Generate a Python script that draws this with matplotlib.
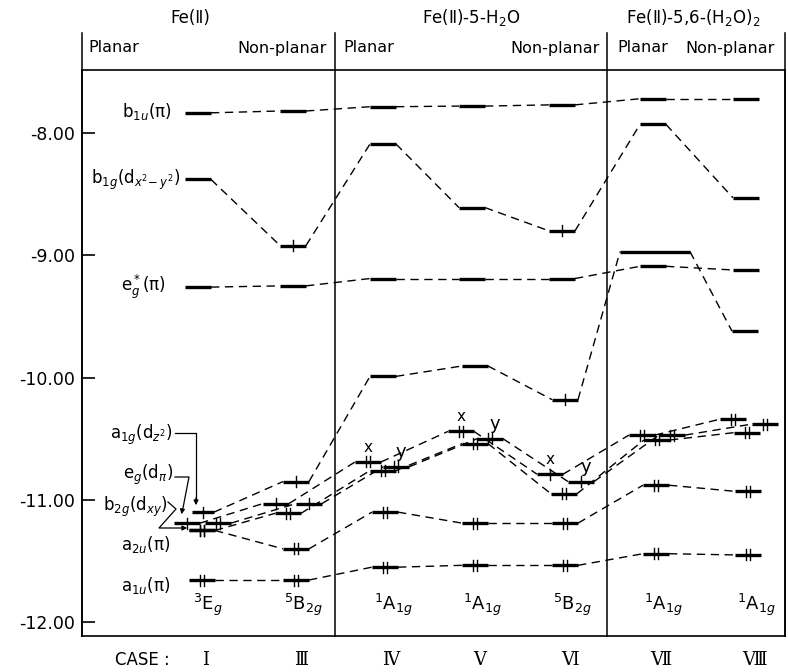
import matplotlib.pyplot as plt

plt.rcParams['font.family'] = ['DejaVu Sans']

case_labels = ["Ⅰ", "Ⅲ", "Ⅳ", "Ⅴ", "Ⅵ", "Ⅶ", "Ⅷ"]
state_labels = [r"$^3$E$_g$", r"$^5$B$_{2g}$", r"$^1$A$_{1g}$", r"$^1$A$_{1g}$",
                r"$^5$B$_{2g}$", r"$^1$A$_{1g}$", r"$^1$A$_{1g}$"]

# orbital energies (eV), one value per case I, III, IV, V, VI, VII, VIII
b1u = [-7.835, -7.82, -7.785, -7.78, -7.77, -7.72, -7.72]
b1g = [-8.38, -8.92, -8.09, -8.61, -8.80, -7.93, -8.53]
eg_star = [-9.26, -9.25, -9.19, -9.19, -9.19, -9.09, -9.12]
a1g = [-11.10, -10.85, -9.99, -9.905, -10.18, -8.97, -9.62]
eg_x = [-11.19, -11.03, -10.69, -10.44, -10.79, -10.47, -10.34]
eg_y = [-11.19, -11.03, -10.73, -10.50, -10.85, -10.47, -10.38]
b2g = [-11.25, -11.11, -10.76, -10.54, -10.95, -10.51, -10.45]
a2u = [-11.25, -11.40, -11.10, -11.19, -11.19, -10.88, -10.93]
a1u = [-11.655, -11.655, -11.55, -11.535, -11.535, -11.44, -11.45]

# electrons in each level
b1u_occ = [0, 0, 0, 0, 0, 0, 0]
b1g_occ = [0, 1, 0, 0, 1, 0, 0]
eg_star_occ = [0, 0, 0, 0, 0, 0, 0]
a1g_occ = [1, 1, 0, 0, 1, 0, 0]
eg_x_occ = [1, 1, 2, 2, 1, 2, 2]
eg_y_occ = [2, 1, 2, 2, 1, 2, 2]
b2g_occ = [2, 2, 2, 2, 2, 2, 2]
a2u_occ = [2, 2, 2, 2, 2, 2, 2]
a1u_occ = [2, 2, 2, 2, 2, 2, 2]

# horizontal layout of the level bars
col_x = [198, 293, 383, 472, 562, 653, 746]
egx_x = [187, 276, 368, 461, 550, 642, 733]
egy_x = [218, 309, 396, 490, 581, 672, 765]
b2g_x = [202, 288, 383, 475, 564, 657, 747]
a1g_x = [203, 296, 383, 475, 565, 655, 745]
low_x = [202, 296, 385, 475, 565, 656, 748]
a1g_w = [22, 26, 26, 26, 26, 70, 26]


def py2e(py):
    return -8 - (py - 133) / 122.3


def levels(ax, xs, es, occ, widths=None):
    w = widths if widths else [26] * len(xs)
    for i in range(len(xs)):
        ax.plot([xs[i] - w[i] / 2, xs[i] + w[i] / 2], [es[i], es[i]],
                color='k', lw=2.4, solid_capstyle='butt')
        if i < len(xs) - 1:
            ax.plot([xs[i] + w[i] / 2, xs[i + 1] - w[i + 1] / 2], [es[i], es[i + 1]],
                    color='k', lw=1, dashes=(6, 4))
        offs = {1: [0], 2: [-2.2, 2.2]}.get(occ[i], [])
        for dx in offs:
            ax.plot([xs[i] + dx] * 2, [es[i] - 0.045, es[i] + 0.045], color='k', lw=1)


fig = plt.figure(figsize=(7.88, 6.72), dpi=100)
ax = fig.add_axes([82 / 788, 36 / 672, 703 / 788, 566 / 672])
ylo, yhi = py2e(636), py2e(70)
ax.set_xlim(82, 785)
ax.set_ylim(ylo, yhi)

levels(ax, col_x, b1u, b1u_occ)
levels(ax, col_x, b1g, b1g_occ)
levels(ax, col_x, eg_star, eg_star_occ)
levels(ax, a1g_x, a1g, a1g_occ, a1g_w)
levels(ax, egx_x, eg_x, eg_x_occ)
levels(ax, egy_x, eg_y, eg_y_occ)
levels(ax, b2g_x, b2g, b2g_occ)
levels(ax, low_x, a2u, a2u_occ)
levels(ax, low_x, a1u, a1u_occ)

# x / y component labels
for i in [2, 3, 4]:
    ax.text(egx_x[i], eg_x[i] + 0.12, "x", ha='center', va='center', fontsize=11)
    ax.text(egy_x[i] + 5, eg_y[i] + 0.12, "y", ha='center', va='center', fontsize=13)

# orbital labels
fs = 12
ax.text(172, py2e(112), "b$_{1u}$(π)", ha='right', va='center', fontsize=fs)
ax.text(180, py2e(180), "b$_{1g}$(d$_{x^2\\!-y^2}$)", ha='right', va='center', fontsize=fs)
ax.text(166, py2e(287), "e$_g^*$(π)", ha='right', va='center', fontsize=fs)
ax.text(173, py2e(435), "a$_{1g}$(d$_{z^2}$)", ha='right', va='center', fontsize=fs)
ax.text(173, py2e(475), "e$_g$(d$_π$)", ha='right', va='center', fontsize=fs)
ax.text(168, py2e(507), "b$_{2g}$(d$_{xy}$)", ha='right', va='center', fontsize=fs)
ax.text(170, py2e(545), "a$_{2u}$(π)", ha='right', va='center', fontsize=fs)
ax.text(170, py2e(585), "a$_{1u}$(π)", ha='right', va='center', fontsize=fs)

# leader lines
ax.plot([175, 196, 196], [py2e(433), py2e(433), py2e(500)], color='k', lw=0.9)
ax.annotate("", xy=(196, py2e(508)), xytext=(196, py2e(495)),
            arrowprops=dict(arrowstyle='-|>', lw=0.9, color='k', mutation_scale=7))
ax.plot([175, 189, 183], [py2e(477), py2e(477), py2e(508)], color='k', lw=0.9)
ax.annotate("", xy=(181, py2e(517)), xytext=(183, py2e(506)),
            arrowprops=dict(arrowstyle='-|>', lw=0.9, color='k', mutation_scale=7))
ax.plot([168, 176, 159, 182], [py2e(502), py2e(509), py2e(528), py2e(528)], color='k', lw=0.9)
ax.annotate("", xy=(190, py2e(528)), xytext=(180, py2e(528)),
            arrowprops=dict(arrowstyle='-|>', lw=0.9, color='k', mutation_scale=7))

# state labels and case numbers
for xc, s, c in zip(col_x, state_labels, case_labels):
    ax.text(xc + 10, py2e(605), s, ha='center', va='center', fontsize=13)
    ax.text(xc + 8, py2e(660), c, ha='center', va='center', fontsize=13,
            family=['DejaVu Serif', 'DejaVu Sans'], clip_on=False)
ax.text(142, py2e(660), "CASE :", ha='center', va='center', fontsize=12, clip_on=False)

# section dividers and header
top = py2e(33)
for xd in [82, 335, 607, 785]:
    ax.plot([xd, xd], [ylo, top], color='k', lw=1.1, clip_on=False)
hy = py2e(48)
ax.text(88, hy, "Planar", ha='left', va='center', fontsize=11.5)
ax.text(327, hy, "Non-planar", ha='right', va='center', fontsize=11.5)
ax.text(343, hy, "Planar", ha='left', va='center', fontsize=11.5)
ax.text(600, hy, "Non-planar", ha='right', va='center', fontsize=11.5)
ax.text(617, hy, "Planar", ha='left', va='center', fontsize=11.5)
ax.text(775, hy, "Non-planar", ha='right', va='center', fontsize=11.5)
ty = py2e(18)
ax.text(190, ty, "Fe(Ⅱ)", ha='center', va='center', fontsize=12)
ax.text(471, ty, "Fe(Ⅱ)-5-H$_2$O", ha='center', va='center', fontsize=12)
ax.text(693, ty, "Fe(Ⅱ)-5,6-(H$_2$O)$_2$", ha='center', va='center', fontsize=12)

# axes styling
for sp in ax.spines.values():
    sp.set_linewidth(1.2)
ax.set_xticks([])
ax.set_yticks([-8, -9, -10, -11, -12])
ax.set_yticklabels(["-8.00", "-9.00", "-10.00", "-11.00", "-12.00"])
ax.tick_params(axis='y', direction='in', length=9, width=1.2, labelsize=12.5, pad=5)

fig.savefig("out.png", dpi=100)
